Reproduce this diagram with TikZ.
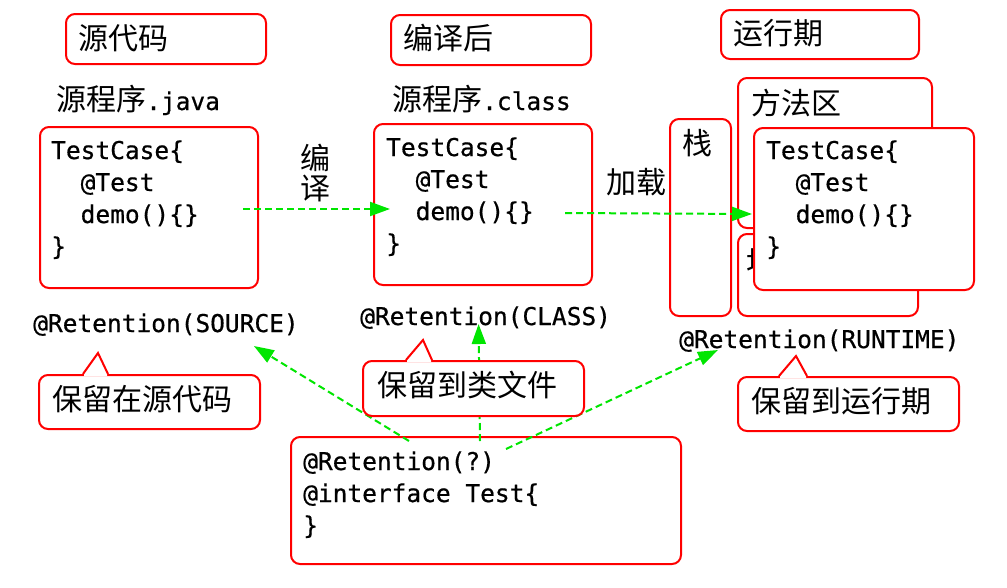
\documentclass[tikz,border=0pt]{standalone}
\usepackage{fontspec}
\newfontfamily\cjkf{Noto Sans CJK SC}
\newfontfamily\monof{DejaVu Sans Mono}[FakeBold=0.6]
\usetikzlibrary{arrows.meta}
\definecolor{gr}{RGB}{0,230,0}
\begin{document}
\begin{tikzpicture}[x=1pt,y=-1pt,
 rbox/.style={draw=red,line width=2pt,rounded corners=9pt,fill=white,inner sep=0pt,anchor=north west},
 zh/.style={font=\cjkf\fontsize{30}{32}\selectfont,inner sep=0pt,anchor=west},
 code/.style={font=\monof\fontsize{24.5}{32}\selectfont,align=left,inner sep=0pt,anchor=base west},
 mixed/.style={font=\cjkf\fontsize{30}{32}\selectfont,inner sep=0pt,anchor=base west},
 garrow/.style={draw=gr,line width=2pt,dash pattern=on 7pt off 4pt,-{Triangle[length=20pt,width=14pt]}},
 ptr/.style={draw=red,line width=2pt,line join=miter}
]
\useasboundingbox (0,0) rectangle (1007,587);
\fill[white] (0,0) rectangle (1007,587);

% headers
\node[rbox,minimum width=200pt,minimum height=50pt] (h1) at (65,13) {};
\node[zh] (h1t) at (78,38) {源代码};
\node[rbox,minimum width=200pt,minimum height=50pt] (h2) at (390,14) {};
\node[zh] (h2t) at (403,38) {编译后};
\node[rbox,minimum width=198pt,minimum height=49pt] (h3) at (720,9) {};
\node[zh] (h3t) at (733,33) {运行期};

% file labels
\node[mixed] (l1) at (56,110) {源程序{\monof\fontsize{24.5}{32}\selectfont .java}};
\node[mixed] (l2) at (392,110) {源程序{\monof\fontsize{24.5}{32}\selectfont .class}};

% source box (multi-line node: base anchor = last line's baseline)
\node[rbox,minimum width=218pt,minimum height=161pt] (b1) at (39,126) {};
\node[code] (b1t) at (51,255) {TestCase\{\\\ \ @Test\\\ \ demo()\{\}\\\}};
% class box
\node[rbox,minimum width=218pt,minimum height=161pt] (b2) at (373,123) {};
\node[code] (b2t) at (386,252) {TestCase\{\\\ \ @Test\\\ \ demo()\{\}\\\}};

% runtime area
\node[rbox,minimum width=61pt,minimum height=197pt] (s) at (669,118) {};
\node[zh,anchor=center] (st) at (697,143) {栈};
\node[rbox,minimum width=194pt,minimum height=150pt] (m) at (737,77) {};
\node[zh] (mt) at (751,103) {方法区};
\node[rbox,minimum width=180pt,minimum height=82pt] (hp) at (737,233) {};
\node[zh] (hpt) at (746,262) {堆};
\node[rbox,minimum width=220pt,minimum height=162pt] (b3) at (753,127) {};
\node[code] (b3t) at (766,255) {TestCase\{\\\ \ @Test\\\ \ demo()\{\}\\\}};

% arrow labels
\node[zh,anchor=center,align=center,font=\cjkf\fontsize{30}{30}\selectfont] (bianyi) at (315,173) {编\\译};
\node[zh,anchor=center] (jiazai) at (636,182) {加载};

% top arrows
\draw[garrow] ([xshift=-16pt,yshift=-1.5pt]b1.east) -- ([xshift=17pt,yshift=-4.5pt]b2.west);
\draw[garrow] ([xshift=-28pt,yshift=-8.5pt]b2.east) -- ([xshift=-1pt,yshift=-5pt]b3.west);

% retention labels
\node[code] (r1) at (33,332) {@Retention(SOURCE)};
\node[code] (r2) at (360,325) {@Retention(CLASS)};
\node[code] (r3) at (679,348) {@Retention(RUNTIME)};

% bottom box
\node[rbox,minimum width=390pt,minimum height=127pt] (bb) at (290,436) {};
\node[code] (bbt) at (303,534) {@Retention(?)\\@interface Test\{\\\}};

% bottom arrows
\draw[garrow] ([xshift=119pt,yshift=-5pt]bb.north west) -- ([xshift=-45pt,yshift=-10pt]r1.south east);
\draw[garrow] ([xshift=-6pt,yshift=-5pt]bb.north) -- ([xshift=-7pt,yshift=5pt]r2.south);
\draw[garrow] ([xshift=20pt,yshift=-13pt]bb.north) -- ([xshift=39pt,yshift=2pt]r3.south west);

% callouts
\node[rbox,minimum width=221pt,minimum height=54pt] (c1) at (38,374) {};
\fill[white] (84,372) -- (98,355) -- (107,372) -- (107,376) -- (84,376) -- cycle;
\draw[ptr] (83,374) -- (98,353) -- (108,374);
\node[zh] (c1t) at (52,399) {保留在源代码};

\node[rbox,minimum width=221pt,minimum height=55pt] (c2) at (362,360) {};
\fill[white] (407,358) -- (423,342) -- (431,358) -- (431,362) -- (407,362) -- cycle;
\draw[ptr] (406,360) -- (423,340) -- (432,360);
\node[zh] (c2t) at (377,385) {保留到类文件};

\node[rbox,minimum width=221pt,minimum height=54pt] (c3) at (737,376) {};
\fill[white] (780,374) -- (796,358) -- (806,374) -- (806,378) -- (780,378) -- cycle;
\draw[ptr] (779,376) -- (796,356) -- (807,376);
\node[zh] (c3t) at (751,401) {保留到运行期};
\end{tikzpicture}
\end{document}
